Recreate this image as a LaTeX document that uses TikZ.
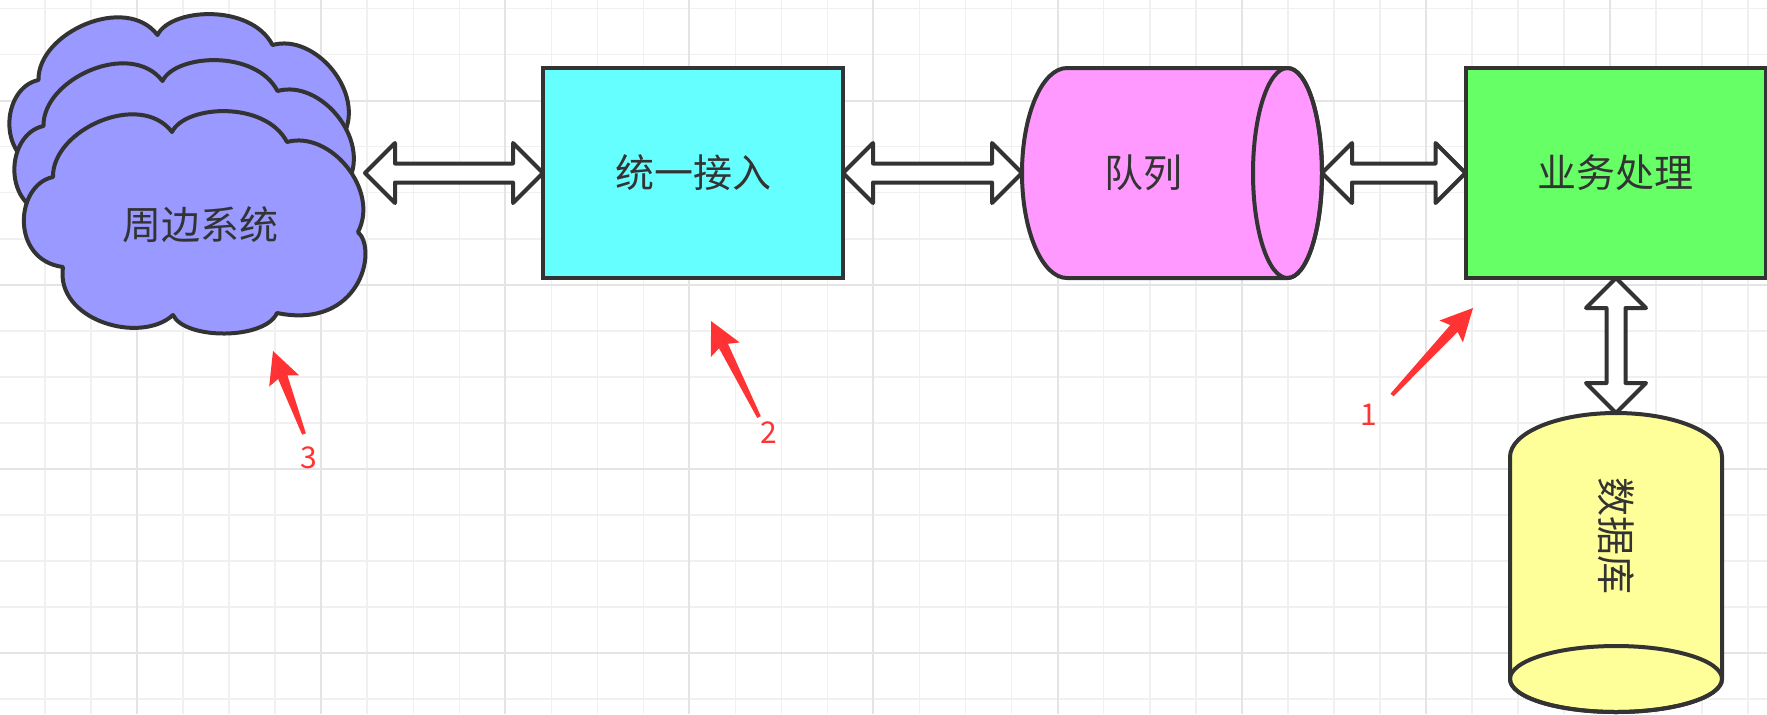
\documentclass[tikz,border=0pt]{standalone}
\usepackage{fontspec}
\setmainfont{Noto Sans CJK SC}
\usetikzlibrary{calc}

\definecolor{ink}{HTML}{333333}
\definecolor{cloudblue}{HTML}{9999FF}
\definecolor{accesscyan}{HTML}{66FFFF}
\definecolor{queuepink}{HTML}{FF99FF}
\definecolor{bizgreen}{HTML}{66FF66}
\definecolor{dbyellow}{HTML}{FFFF99}
\definecolor{annored}{HTML}{FF3333}
\definecolor{gridlight}{HTML}{F0F0F0}
\definecolor{griddark}{HTML}{E4E4E4}

\tikzset{
  tag/.style={text=ink, inner sep=0pt, font=\fontsize{19.5pt}{22pt}\selectfont},
  box/.style={tag, draw=ink, line width=2pt, minimum width=150pt, minimum height=105pt, outer sep=0pt},
  frame/.style={inner sep=0pt, outer sep=0pt},
  drumline/.style={draw=ink, line width=2pt, line join=round},
  puff/.style={draw=ink, line width=2pt, fill=cloudblue, line join=round},
  link/.style={draw=ink, line width=2pt, fill=white, line join=round},
  annot/.style={fill=annored},
  annotlabel/.style={text=annored, inner sep=0pt, font=\fontsize{15pt}{18pt}\selectfont},
  gridminor/.style={draw=gridlight, line width=0.75pt},
  gridmajor/.style={draw=griddark, line width=1pt}
}

\newcommand\linkarrow[2]{%
  \draw[link] (#1)
    -- ($($(#1)!15pt!(#2)$)!15pt!90:(#2)$)
    -- ($($(#1)!15pt!(#2)$)!4.75pt!90:(#2)$)
    -- ($($(#2)!15pt!(#1)$)!4.75pt!-90:(#1)$)
    -- ($($(#2)!15pt!(#1)$)!15pt!-90:(#1)$)
    -- (#2)
    -- ($($(#2)!15pt!(#1)$)!15pt!90:(#1)$)
    -- ($($(#2)!15pt!(#1)$)!4.75pt!90:(#1)$)
    -- ($($(#1)!15pt!(#2)$)!4.75pt!-90:(#2)$)
    -- ($($(#1)!15pt!(#2)$)!15pt!-90:(#2)$)
    -- cycle;}

\newcommand\markarrow[2]{%
  \fill[annot] (#2) -- ($(#2)!17.9pt!26.6:(#1)$) -- ($(#2)!14.2pt!10.1:(#1)$)
    -- ($(#1)!1pt!-90:(#2)$) -- ($(#1)!1pt!90:(#2)$)
    -- ($(#2)!14.2pt!-10.1:(#1)$) -- ($(#2)!17.9pt!-26.6:(#1)$) -- cycle;}

\begin{document}
\begin{tikzpicture}[x=0.5pt, y=-0.5pt]
\useasboundingbox (0,0) rectangle (1767,714);

\foreach \i in {0,...,38}
  \draw[gridminor] ({-1+46.03*\i},0) -- ({-1+46.03*\i},714);
\foreach \j in {0,...,15}
  \draw[gridminor] (0,{8.6+46.03*\j}) -- (1767,{8.6+46.03*\j});
\foreach \i in {0,...,8}
  \draw[gridmajor] ({137+184.1*\i},0) -- ({137+184.1*\i},714);
\foreach \j in {0,...,3}
  \draw[gridmajor] (0,{100.7+184.1*\j}) -- (1767,{100.7+184.1*\j});

% three stacked clouds
\foreach \dx/\dy in {-14.5/-97, -9.5/-51, 0/0}
  \draw[puff, shift={(\dx,\dy)}] (53,177)
    .. controls (52,130) and (140,90) .. (172,132)
    .. controls (185,105) and (265,100) .. (287,142)
    .. controls (330,130) and (380,190) .. (358,232)
    .. controls (378,250) and (360,330) .. (277,313)
    .. controls (265,340) and (185,340) .. (173,315)
    .. controls (140,345) and (55,320) .. (63,267)
    .. controls (10,260) and (15,185) .. (53,177) -- cycle;
\node[tag] (sys) at (200,225) {周边系统};

\node[box, fill=accesscyan] (acc) at (693,173) {统一接入};
\node[box, fill=bizgreen] (biz) at (1615.5,173) {业务处理};

\node[frame, minimum width=150pt, minimum height=105pt] (queue) at (1172,173) {};
\draw[drumline, fill=queuepink] ($(queue.north east)+(-34.5,0)$) -- ($(queue.north west)+(45,0)$)
  arc[start angle=90, end angle=270, x radius=22.5pt, y radius=52.5pt]
  -- ($(queue.south east)+(-34.5,0)$)
  arc[start angle=-90, end angle=90, x radius=17.25pt, y radius=52.5pt] -- cycle;
\draw[drumline] ($(queue.east)+(-34.5,0)$) ellipse[x radius=17.25pt, y radius=52.5pt];
\node[tag] (queuetext) at ($(queue.center)+(-29,0)$) {队列};

\node[frame, minimum width=106pt, minimum height=149.5pt] (db) at (1616,562.5) {};
\draw[drumline, fill=dbyellow] ($(db.south west)+(0,-33)$) -- ($(db.north west)+(0,44)$)
  arc[start angle=180, end angle=0, x radius=53pt, y radius=22pt]
  -- ($(db.south east)+(0,-33)$)
  arc[start angle=0, end angle=-180, x radius=53pt, y radius=16.5pt] -- cycle;
\draw[drumline] ($(db.south)+(0,-33)$) ellipse[x radius=53pt, y radius=16.5pt];
\node[tag, rotate=-90] (dbtext) at ($(db.center)+(0,-27)$) {数据库};

\coordinate (sysr) at (365,173);
\coordinate (bizs) at (db.north |- biz.south);
\linkarrow{sysr}{acc.west}
\linkarrow{acc.east}{queue.west}
\linkarrow{queue.east}{biz.west}
\linkarrow{bizs}{db.north}

\coordinate (t3) at (304,434);
\coordinate (h3) at (273,351);
\coordinate (t2) at (759,417);
\coordinate (h2) at (711,321);
\coordinate (t1) at (1392,395);
\coordinate (h1) at (1473,308);
\markarrow{t3}{h3}
\markarrow{t2}{h2}
\markarrow{t1}{h1}
\node[annotlabel] (n3) at (309,458) {3};
\node[annotlabel] (n2) at (769,433) {2};
\node[annotlabel] (n1) at (1369,415) {1};
\end{tikzpicture}
\end{document}
